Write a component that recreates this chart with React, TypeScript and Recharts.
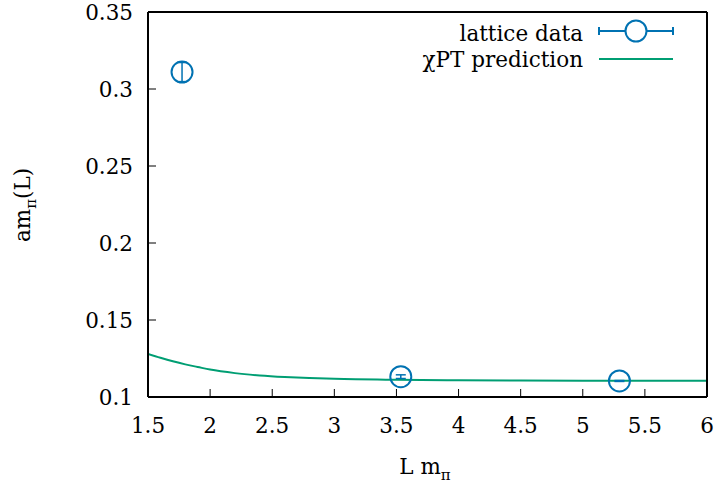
import { ComposedChart, XAxis, YAxis, Scatter, Line, ErrorBar } from "recharts";

// lattice points: L m_pi, a m_pi(L), error
const latticeX = [1.774, 3.535, 5.295];
const latticeY = [0.311, 0.1132, 0.1104];
const latticeErr = [0.0062, 0.0012, 0.0003];

// chiPT prediction curve
const curveX = [1.5, 1.6, 1.7, 1.8, 1.9, 2.0, 2.2, 2.4, 2.6, 2.8, 3.0, 3.5, 4.0, 4.5, 5.0, 5.5, 6.0];
const curveY = [0.128, 0.1255, 0.1232, 0.1212, 0.1195, 0.1178, 0.1155, 0.114, 0.113, 0.1123, 0.1118, 0.1112, 0.1109, 0.1107, 0.1106, 0.1106, 0.1105];

const xTicks = [1.5, 2, 2.5, 3, 3.5, 4, 4.5, 5, 5.5, 6];
const yTicks = [0.1, 0.15, 0.2, 0.25, 0.3, 0.35];

const BLUE = "#0072b2";
const GREEN = "#009e73";
const FONT = "DejaVu Serif";
const FS = 21.5;
const TICK_LEN = 8;

const lattice = latticeX.map((x, i) => ({ x, y: latticeY[i], err: latticeErr[i] }));
const curve = curveX.map((x, i) => ({ x, y: curveY[i] }));

function T({ x, y, anchor = "middle", children, ...rest }: any) {
  return (
    <text x={x} y={y} textAnchor={anchor} fontSize={FS} fill="#000" fontFamily={FONT} {...rest}>
      {children}
    </text>
  );
}

function BottomTick({ x, y, payload }: any) {
  return (
    <g>
      <line x1={x} x2={x} y1={y} y2={y - TICK_LEN} stroke="#000" strokeWidth={1} />
      <T x={x} y={y + 36}>{String(payload.value)}</T>
    </g>
  );
}

function TopTick({ x, y }: any) {
  return <line x1={x} x2={x} y1={y} y2={y + TICK_LEN} stroke="#000" strokeWidth={1} />;
}

function LeftTick({ x, y, payload }: any) {
  return (
    <g>
      <line x1={x} x2={x + TICK_LEN} y1={y} y2={y} stroke="#000" strokeWidth={1} />
      <T x={x - 15} y={y + 8} anchor="end">{String(payload.value)}</T>
    </g>
  );
}

function RightTick({ x, y }: any) {
  return <line x1={x} x2={x - TICK_LEN} y1={y} y2={y} stroke="#000" strokeWidth={1} />;
}

function RingDot({ cx, cy }: any) {
  return <circle cx={cx} cy={cy} r={10.5} fill="none" stroke={BLUE} strokeWidth={2} />;
}

const axisLine = { stroke: "#000", strokeWidth: 2 };

export default function App() {
  return (
    <div style={{ position: "absolute", left: 0, top: 0, width: 716, height: 488, background: "#fff" }}>
      <ComposedChart width={716} height={488} margin={{ top: 11, right: 8, bottom: 90, left: 147 }}>
        <XAxis
          xAxisId="b"
          dataKey="x"
          type="number"
          domain={[1.5, 6]}
          ticks={xTicks}
          interval={0}
          allowDataOverflow
          height={1}
          tickSize={0}
          tickMargin={0}
          tickLine={false}
          axisLine={axisLine}
          tick={<BottomTick />}
        />
        <XAxis
          xAxisId="t"
          orientation="top"
          dataKey="x"
          type="number"
          domain={[1.5, 6]}
          ticks={xTicks}
          interval={0}
          height={1}
          tickSize={0}
          tickMargin={0}
          tickLine={false}
          axisLine={axisLine}
          tick={<TopTick />}
        />
        <YAxis
          yAxisId="l"
          type="number"
          domain={[0.1, 0.35]}
          ticks={yTicks}
          interval={0}
          allowDataOverflow
          width={1}
          tickSize={0}
          tickMargin={0}
          tickLine={false}
          axisLine={axisLine}
          tick={<LeftTick />}
        />
        <YAxis
          yAxisId="r"
          orientation="right"
          type="number"
          domain={[0.1, 0.35]}
          ticks={yTicks}
          interval={0}
          width={1}
          tickSize={0}
          tickMargin={0}
          tickLine={false}
          axisLine={axisLine}
          tick={<RightTick />}
        />
        <Line
          xAxisId="b"
          yAxisId="l"
          data={curve}
          dataKey="y"
          type="monotone"
          stroke={GREEN}
          strokeWidth={2}
          dot={false}
          isAnimationActive={false}
        />
        <Scatter xAxisId="b" yAxisId="l" data={lattice} dataKey="y" shape={<RingDot />} isAnimationActive={false}>
          <ErrorBar dataKey="err" direction="y" width={5} stroke={BLUE} strokeWidth={1.5} isAnimationActive={false} />
        </Scatter>
      </ComposedChart>

      {/* legend + axis titles */}
      <svg width={716} height={488} style={{ position: "absolute", left: 0, top: 0, pointerEvents: "none" }}>
        <T x={583} y={41} anchor="end">lattice data</T>
        <line x1={599} x2={673} y1={31} y2={31} stroke={BLUE} strokeWidth={2} />
        <line x1={599} x2={599} y1={27} y2={35} stroke={BLUE} strokeWidth={2} />
        <line x1={673} x2={673} y1={27} y2={35} stroke={BLUE} strokeWidth={2} />
        <circle cx={636} cy={31} r={10.5} fill="#fff" stroke={BLUE} strokeWidth={2} />
        <T x={583} y={67} anchor="end">χPT prediction</T>
        <line x1={599} x2={673} y1={59} y2={59} stroke={GREEN} strokeWidth={2} />

        <T x={425} y={474}>
          L m<tspan fontSize={15} dy={6}>π</tspan>
        </T>
        <T x={30} y={205} transform="rotate(-90 30 205)">
          am<tspan fontSize={15} dy={6}>π</tspan>
          <tspan dy={-6}>(L)</tspan>
        </T>
      </svg>
    </div>
  );
}
